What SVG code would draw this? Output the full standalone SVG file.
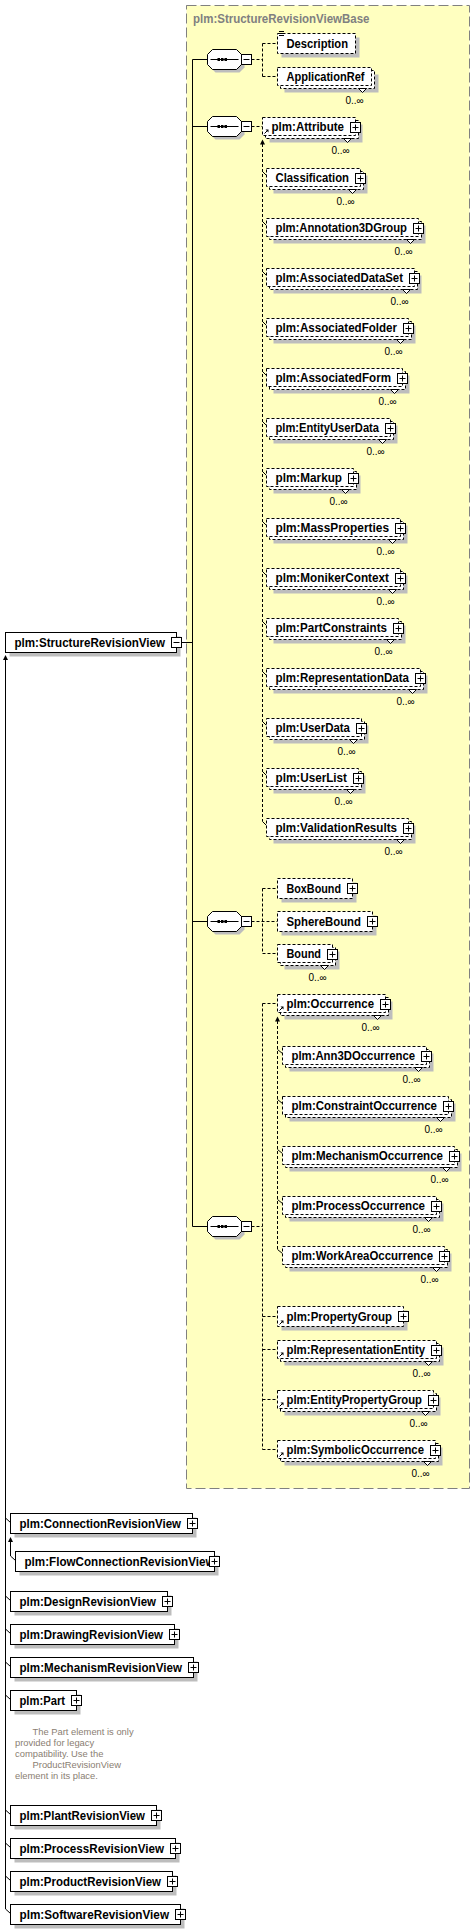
<svg xmlns="http://www.w3.org/2000/svg" width="475" height="1930" viewBox="0 0 475 1930">
<style>
.sh{fill:#bdbdbd}
.bx{fill:#fff;stroke:#000;stroke-width:1}
.bd{fill:#fff;stroke:#000;stroke-width:1;stroke-dasharray:3,2}
.lbl{font-family:"Liberation Sans",Arial,sans-serif;font-weight:bold;font-size:12px;fill:#000}
.mul{font-family:"Liberation Sans",Arial,sans-serif;font-size:10px;fill:#000}
.ann{font-family:"Liberation Sans",Arial,sans-serif;font-size:9.4px;fill:#8a7e72}
.ln{stroke:#000;stroke-width:1;fill:none}
.dl{stroke:#000;stroke-width:1;fill:none;stroke-dasharray:3,2}
.nt{fill:#fff;stroke:#000;stroke-width:1}
.ah{fill:#000}
</style>
<defs>
<g id="plus"><rect x="0" y="0" width="10" height="10" fill="#fff" stroke="#000"/><path d="M2,5H8M5,2V8" stroke="#000" fill="none"/></g>
<g id="minus"><rect x="0" y="0" width="10" height="10" fill="#fff" stroke="#000"/><path d="M2,5H8" stroke="#000" fill="none"/></g>
<g id="ref"><path d="M0,0L3,-3" stroke="#000" fill="none"/><path d="M1,-4H4V-1Z" fill="#000"/></g>
<g id="seq">
<path d="M8,-7H32L37,-2V8L32,13H8L3,8V-2Z" fill="#bdbdbd"/>
<path d="M5,-10H29L34,-5V5L29,10H5L0,5V-5Z" fill="#fff" stroke="#000"/>
<path d="M3,0H31" stroke="#000" fill="none"/>
<rect x="10" y="-1.5" width="2.5" height="3" fill="#000"/>
<rect x="13.5" y="-1.5" width="2.5" height="3" fill="#000"/>
<rect x="17" y="-1.5" width="2.5" height="3" fill="#000"/>
<use href="#minus" x="34" y="-5"/>
</g>
<path id="up" d="M0,0L-2.5,5H2.5Z"/>
</defs>

<g id="base-type">
<rect x="186.5" y="5.5" width="283" height="1483" fill="#ffffc0" stroke="#808080" stroke-dasharray="10,4"/>
<text x="193" y="23" class="lbl" style="fill:#808080" textLength="176.5" lengthAdjust="spacingAndGlyphs">plm:StructureRevisionViewBase</text>
</g>

<g id="connectors">
<path class="ln" d="M181.5,642.5H192.5M192.5,59.5V1226.5M192.5,59.5H207.5M192.5,126.5H207.5M192.5,921.5H207.5M192.5,1226.5H207.5"/>
<path class="dl" d="M251.5,59.5H262.5M262.5,43.5V76.5M262.5,43.5H277.5M262.5,76.5H277.5"/>
<path class="dl" d="M251.5,126.5H262.5M262.5,144V821.5"/>
<use href="#up" x="262.5" y="139.5" class="ah"/>
<path class="ln" d="M262.5,171.5L266.5,175.5M262.5,221.5L266.5,225.5M262.5,271.5L266.5,275.5M262.5,321.5L266.5,325.5M262.5,371.5L266.5,375.5M262.5,421.5L266.5,425.5M262.5,471.5L266.5,475.5M262.5,521.5L266.5,525.5M262.5,571.5L266.5,575.5M262.5,621.5L266.5,625.5M262.5,671.5L266.5,675.5M262.5,721.5L266.5,725.5M262.5,771.5L266.5,775.5M262.5,821.5L266.5,825.5"/>
<path class="dl" d="M251.5,921.5H277.5M262.5,888.5V953.5M262.5,888.5H277.5M262.5,953.5H277.5"/>
<path class="dl" d="M251.5,1226.5H262.5M262.5,1003.5V1449.5M262.5,1003.5H277.5M262.5,1316.5H277.5M262.5,1349.5H277.5M262.5,1399.5H277.5M262.5,1449.5H277.5"/>
<path class="dl" d="M277.5,1021V1249.5"/>
<use href="#up" x="277.5" y="1016.5" class="ah"/>
<path class="ln" d="M277.5,1049.5L282.5,1053.5M277.5,1099.5L282.5,1103.5M277.5,1149.5L282.5,1153.5M277.5,1199.5L282.5,1203.5M277.5,1249.5L282.5,1253.5"/>
<path class="ln" d="M5.5,659V1909M10.5,1541V1556M10.5,1556L15.5,1560.5"/>
<use href="#up" x="5.5" y="655" class="ah"/>
<use href="#up" x="10.5" y="1537" class="ah"/>
<path class="ln" d="M5.5,1518L10.5,1522.5M5.5,1596L10.5,1600.5M5.5,1629L10.5,1633.5M5.5,1662L10.5,1666.5M5.5,1695L10.5,1699.5M5.5,1810L10.5,1814.5M5.5,1843L10.5,1847.5M5.5,1876L10.5,1880.5M5.5,1909L10.5,1913.5"/>
</g>

<g id="seq-1"><use href="#seq" x="207.5" y="59.5"/></g>
<g id="seq-2"><use href="#seq" x="207.5" y="126.5"/></g>
<g id="seq-3"><use href="#seq" x="207.5" y="921.5"/></g>
<g id="seq-4"><use href="#seq" x="207.5" y="1226.5"/></g>

<g id="n-StructureRevisionView">
<rect class="sh" x="9.5" y="636.5" width="171" height="20"/>
<rect class="bx" x="5.5" y="632.5" width="171" height="20"/>
<text class="lbl" x="14.5" y="646.5" textLength="150.5" lengthAdjust="spacingAndGlyphs">plm:StructureRevisionView</text>
<use href="#minus" x="171.5" y="637.5"/>
</g>

<g id="n-Description">
<rect class="sh" x="281.5" y="37.5" width="78" height="20"/>
<rect class="bd" x="277.5" y="33.5" width="78" height="20"/>
<path class="ln" d="M279,31.5H284M279,33.5H284M279,35.5H284"/>
<text class="lbl" x="286.5" y="47.5" textLength="61.5" lengthAdjust="spacingAndGlyphs">Description</text>
</g>

<g id="n-ApplicationRef">
<rect class="sh" x="284.5" y="74.5" width="94" height="18"/>
<rect class="bd" x="280.5" y="70.5" width="94" height="18"/>
<rect class="bd" x="277.5" y="67.5" width="94" height="18"/>
<text class="lbl" x="286.5" y="80.5" textLength="78" lengthAdjust="spacingAndGlyphs">ApplicationRef</text>
<polygon class="nt" points="358.5,88.5 362.5,92.5 366.5,88.5"/>
<text class="mul" x="345.5" y="104">0..∞</text>
</g>

<g id="n-Attribute">
<rect class="sh" x="269.5" y="124.5" width="93" height="18"/>
<rect class="bd" x="265.5" y="120.5" width="93" height="18"/>
<rect class="bd" x="262.5" y="117.5" width="93" height="18"/>
<text class="lbl" x="271.5" y="130.5" textLength="72.5" lengthAdjust="spacingAndGlyphs">plm:Attribute</text>
<use href="#ref" x="264.5" y="133.5"/>
<use href="#plus" x="350.5" y="122.5"/>
<polygon class="nt" points="343.5,138.5 347.5,142.5 351.5,138.5"/>
<text class="mul" x="331.5" y="154">0..∞</text>
</g>

<g id="n-Classification">
<rect class="sh" x="273.5" y="175.5" width="94" height="18"/>
<rect class="bd" x="269.5" y="171.5" width="94" height="18"/>
<rect class="bd" x="266.5" y="168.5" width="94" height="18"/>
<text class="lbl" x="275.5" y="181.5" textLength="73.5" lengthAdjust="spacingAndGlyphs">Classification</text>
<use href="#plus" x="355.5" y="173.5"/>
<polygon class="nt" points="348.5,189.5 352.5,193.5 356.5,189.5"/>
<text class="mul" x="336.5" y="205">0..∞</text>
</g>

<g id="n-Annotation3DGroup">
<rect class="sh" x="273.5" y="225.5" width="152" height="18"/>
<rect class="bd" x="269.5" y="221.5" width="152" height="18"/>
<rect class="bd" x="266.5" y="218.5" width="152" height="18"/>
<text class="lbl" x="275.5" y="231.5" textLength="131.5" lengthAdjust="spacingAndGlyphs">plm:Annotation3DGroup</text>
<use href="#plus" x="413.5" y="223.5"/>
<polygon class="nt" points="406.5,239.5 410.5,243.5 414.5,239.5"/>
<text class="mul" x="394.5" y="255">0..∞</text>
</g>

<g id="n-AssociatedDataSet">
<rect class="sh" x="273.5" y="275.5" width="148" height="18"/>
<rect class="bd" x="269.5" y="271.5" width="148" height="18"/>
<rect class="bd" x="266.5" y="268.5" width="148" height="18"/>
<text class="lbl" x="275.5" y="281.5" textLength="127.5" lengthAdjust="spacingAndGlyphs">plm:AssociatedDataSet</text>
<use href="#plus" x="409.5" y="273.5"/>
<polygon class="nt" points="402.5,289.5 406.5,293.5 410.5,289.5"/>
<text class="mul" x="390.5" y="305">0..∞</text>
</g>

<g id="n-AssociatedFolder">
<rect class="sh" x="273.5" y="325.5" width="142" height="18"/>
<rect class="bd" x="269.5" y="321.5" width="142" height="18"/>
<rect class="bd" x="266.5" y="318.5" width="142" height="18"/>
<text class="lbl" x="275.5" y="331.5" textLength="121.5" lengthAdjust="spacingAndGlyphs">plm:AssociatedFolder</text>
<use href="#plus" x="403.5" y="323.5"/>
<polygon class="nt" points="396.5,339.5 400.5,343.5 404.5,339.5"/>
<text class="mul" x="384.5" y="355">0..∞</text>
</g>

<g id="n-AssociatedForm">
<rect class="sh" x="273.5" y="375.5" width="136" height="18"/>
<rect class="bd" x="269.5" y="371.5" width="136" height="18"/>
<rect class="bd" x="266.5" y="368.5" width="136" height="18"/>
<text class="lbl" x="275.5" y="381.5" textLength="115.5" lengthAdjust="spacingAndGlyphs">plm:AssociatedForm</text>
<use href="#plus" x="397.5" y="373.5"/>
<polygon class="nt" points="390.5,389.5 394.5,393.5 398.5,389.5"/>
<text class="mul" x="378.5" y="405">0..∞</text>
</g>

<g id="n-EntityUserData">
<rect class="sh" x="273.5" y="425.5" width="124" height="18"/>
<rect class="bd" x="269.5" y="421.5" width="124" height="18"/>
<rect class="bd" x="266.5" y="418.5" width="124" height="18"/>
<text class="lbl" x="275.5" y="431.5" textLength="103.5" lengthAdjust="spacingAndGlyphs">plm:EntityUserData</text>
<use href="#plus" x="385.5" y="423.5"/>
<polygon class="nt" points="378.5,439.5 382.5,443.5 386.5,439.5"/>
<text class="mul" x="366.5" y="455">0..∞</text>
</g>

<g id="n-Markup">
<rect class="sh" x="273.5" y="475.5" width="87" height="18"/>
<rect class="bd" x="269.5" y="471.5" width="87" height="18"/>
<rect class="bd" x="266.5" y="468.5" width="87" height="18"/>
<text class="lbl" x="275.5" y="481.5" textLength="66.5" lengthAdjust="spacingAndGlyphs">plm:Markup</text>
<use href="#plus" x="348.5" y="473.5"/>
<polygon class="nt" points="341.5,489.5 345.5,493.5 349.5,489.5"/>
<text class="mul" x="329.5" y="505">0..∞</text>
</g>

<g id="n-MassProperties">
<rect class="sh" x="273.5" y="525.5" width="134" height="18"/>
<rect class="bd" x="269.5" y="521.5" width="134" height="18"/>
<rect class="bd" x="266.5" y="518.5" width="134" height="18"/>
<text class="lbl" x="275.5" y="531.5" textLength="113.5" lengthAdjust="spacingAndGlyphs">plm:MassProperties</text>
<use href="#plus" x="395.5" y="523.5"/>
<polygon class="nt" points="388.5,539.5 392.5,543.5 396.5,539.5"/>
<text class="mul" x="376.5" y="555">0..∞</text>
</g>

<g id="n-MonikerContext">
<rect class="sh" x="273.5" y="575.5" width="134" height="18"/>
<rect class="bd" x="269.5" y="571.5" width="134" height="18"/>
<rect class="bd" x="266.5" y="568.5" width="134" height="18"/>
<text class="lbl" x="275.5" y="581.5" textLength="113.5" lengthAdjust="spacingAndGlyphs">plm:MonikerContext</text>
<use href="#plus" x="395.5" y="573.5"/>
<polygon class="nt" points="388.5,589.5 392.5,593.5 396.5,589.5"/>
<text class="mul" x="376.5" y="605">0..∞</text>
</g>

<g id="n-PartConstraints">
<rect class="sh" x="273.5" y="625.5" width="132" height="18"/>
<rect class="bd" x="269.5" y="621.5" width="132" height="18"/>
<rect class="bd" x="266.5" y="618.5" width="132" height="18"/>
<text class="lbl" x="275.5" y="631.5" textLength="111.5" lengthAdjust="spacingAndGlyphs">plm:PartConstraints</text>
<use href="#plus" x="393.5" y="623.5"/>
<polygon class="nt" points="386.5,639.5 390.5,643.5 394.5,639.5"/>
<text class="mul" x="374.5" y="655">0..∞</text>
</g>

<g id="n-RepresentationData">
<rect class="sh" x="273.5" y="675.5" width="154" height="18"/>
<rect class="bd" x="269.5" y="671.5" width="154" height="18"/>
<rect class="bd" x="266.5" y="668.5" width="154" height="18"/>
<text class="lbl" x="275.5" y="681.5" textLength="133.5" lengthAdjust="spacingAndGlyphs">plm:RepresentationData</text>
<use href="#plus" x="415.5" y="673.5"/>
<polygon class="nt" points="408.5,689.5 412.5,693.5 416.5,689.5"/>
<text class="mul" x="396.5" y="705">0..∞</text>
</g>

<g id="n-UserData">
<rect class="sh" x="273.5" y="725.5" width="95" height="18"/>
<rect class="bd" x="269.5" y="721.5" width="95" height="18"/>
<rect class="bd" x="266.5" y="718.5" width="95" height="18"/>
<text class="lbl" x="275.5" y="731.5" textLength="74.5" lengthAdjust="spacingAndGlyphs">plm:UserData</text>
<use href="#plus" x="356.5" y="723.5"/>
<polygon class="nt" points="349.5,739.5 353.5,743.5 357.5,739.5"/>
<text class="mul" x="337.5" y="755">0..∞</text>
</g>

<g id="n-UserList">
<rect class="sh" x="273.5" y="775.5" width="92" height="18"/>
<rect class="bd" x="269.5" y="771.5" width="92" height="18"/>
<rect class="bd" x="266.5" y="768.5" width="92" height="18"/>
<text class="lbl" x="275.5" y="781.5" textLength="71.5" lengthAdjust="spacingAndGlyphs">plm:UserList</text>
<use href="#plus" x="353.5" y="773.5"/>
<polygon class="nt" points="346.5,789.5 350.5,793.5 354.5,789.5"/>
<text class="mul" x="334.5" y="805">0..∞</text>
</g>

<g id="n-ValidationResults">
<rect class="sh" x="273.5" y="825.5" width="142" height="18"/>
<rect class="bd" x="269.5" y="821.5" width="142" height="18"/>
<rect class="bd" x="266.5" y="818.5" width="142" height="18"/>
<text class="lbl" x="275.5" y="831.5" textLength="121.5" lengthAdjust="spacingAndGlyphs">plm:ValidationResults</text>
<use href="#plus" x="403.5" y="823.5"/>
<polygon class="nt" points="396.5,839.5 400.5,843.5 404.5,839.5"/>
<text class="mul" x="384.5" y="855">0..∞</text>
</g>

<g id="n-BoxBound">
<rect class="sh" x="281.5" y="882.5" width="75" height="20"/>
<rect class="bd" x="277.5" y="878.5" width="75" height="20"/>
<text class="lbl" x="286.5" y="892.5" textLength="54.5" lengthAdjust="spacingAndGlyphs">BoxBound</text>
<use href="#plus" x="347.5" y="883.5"/>
</g>

<g id="n-SphereBound">
<rect class="sh" x="281.5" y="915.5" width="95" height="20"/>
<rect class="bd" x="277.5" y="911.5" width="95" height="20"/>
<text class="lbl" x="286.5" y="925.5" textLength="74.5" lengthAdjust="spacingAndGlyphs">SphereBound</text>
<use href="#plus" x="367.5" y="916.5"/>
</g>

<g id="n-Bound">
<rect class="sh" x="284.5" y="951.5" width="55" height="18"/>
<rect class="bd" x="280.5" y="947.5" width="55" height="18"/>
<rect class="bd" x="277.5" y="944.5" width="55" height="18"/>
<text class="lbl" x="286.5" y="957.5" textLength="34.5" lengthAdjust="spacingAndGlyphs">Bound</text>
<use href="#plus" x="327.5" y="949.5"/>
<polygon class="nt" points="320.5,965.5 324.5,969.5 328.5,965.5"/>
<text class="mul" x="308.5" y="981">0..∞</text>
</g>

<g id="n-Occurrence">
<rect class="sh" x="284.5" y="1001.5" width="108" height="18"/>
<rect class="bd" x="280.5" y="997.5" width="108" height="18"/>
<rect class="bd" x="277.5" y="994.5" width="108" height="18"/>
<text class="lbl" x="286.5" y="1007.5" textLength="87.5" lengthAdjust="spacingAndGlyphs">plm:Occurrence</text>
<use href="#ref" x="279.5" y="1010.5"/>
<use href="#plus" x="380.5" y="999.5"/>
<polygon class="nt" points="373.5,1015.5 377.5,1019.5 381.5,1015.5"/>
<text class="mul" x="361.5" y="1031">0..∞</text>
</g>

<g id="n-Ann3DOccurrence">
<rect class="sh" x="289.5" y="1053.5" width="144" height="18"/>
<rect class="bd" x="285.5" y="1049.5" width="144" height="18"/>
<rect class="bd" x="282.5" y="1046.5" width="144" height="18"/>
<text class="lbl" x="291.5" y="1059.5" textLength="123.5" lengthAdjust="spacingAndGlyphs">plm:Ann3DOccurrence</text>
<use href="#plus" x="421.5" y="1051.5"/>
<polygon class="nt" points="414.5,1067.5 418.5,1071.5 422.5,1067.5"/>
<text class="mul" x="402.5" y="1083">0..∞</text>
</g>

<g id="n-ConstraintOccurrence">
<rect class="sh" x="289.5" y="1103.5" width="166" height="18"/>
<rect class="bd" x="285.5" y="1099.5" width="166" height="18"/>
<rect class="bd" x="282.5" y="1096.5" width="166" height="18"/>
<text class="lbl" x="291.5" y="1109.5" textLength="145.5" lengthAdjust="spacingAndGlyphs">plm:ConstraintOccurrence</text>
<use href="#plus" x="443.5" y="1101.5"/>
<polygon class="nt" points="436.5,1117.5 440.5,1121.5 444.5,1117.5"/>
<text class="mul" x="424.5" y="1133">0..∞</text>
</g>

<g id="n-MechanismOccurrence">
<rect class="sh" x="289.5" y="1153.5" width="172" height="18"/>
<rect class="bd" x="285.5" y="1149.5" width="172" height="18"/>
<rect class="bd" x="282.5" y="1146.5" width="172" height="18"/>
<text class="lbl" x="291.5" y="1159.5" textLength="151.5" lengthAdjust="spacingAndGlyphs">plm:MechanismOccurrence</text>
<use href="#plus" x="449.5" y="1151.5"/>
<polygon class="nt" points="442.5,1167.5 446.5,1171.5 450.5,1167.5"/>
<text class="mul" x="430.5" y="1183">0..∞</text>
</g>

<g id="n-ProcessOccurrence">
<rect class="sh" x="289.5" y="1203.5" width="154" height="18"/>
<rect class="bd" x="285.5" y="1199.5" width="154" height="18"/>
<rect class="bd" x="282.5" y="1196.5" width="154" height="18"/>
<text class="lbl" x="291.5" y="1209.5" textLength="133.5" lengthAdjust="spacingAndGlyphs">plm:ProcessOccurrence</text>
<use href="#plus" x="431.5" y="1201.5"/>
<polygon class="nt" points="424.5,1217.5 428.5,1221.5 432.5,1217.5"/>
<text class="mul" x="412.5" y="1233">0..∞</text>
</g>

<g id="n-WorkAreaOccurrence">
<rect class="sh" x="289.5" y="1253.5" width="162" height="18"/>
<rect class="bd" x="285.5" y="1249.5" width="162" height="18"/>
<rect class="bd" x="282.5" y="1246.5" width="162" height="18"/>
<text class="lbl" x="291.5" y="1259.5" textLength="141.5" lengthAdjust="spacingAndGlyphs">plm:WorkAreaOccurrence</text>
<use href="#plus" x="439.5" y="1251.5"/>
<polygon class="nt" points="432.5,1267.5 436.5,1271.5 440.5,1267.5"/>
<text class="mul" x="420.5" y="1283">0..∞</text>
</g>

<g id="n-PropertyGroup">
<rect class="sh" x="281.5" y="1310.5" width="126" height="20"/>
<rect class="bd" x="277.5" y="1306.5" width="126" height="20"/>
<text class="lbl" x="286.5" y="1320.5" textLength="105.5" lengthAdjust="spacingAndGlyphs">plm:PropertyGroup</text>
<use href="#ref" x="279.5" y="1324.5"/>
<use href="#plus" x="398.5" y="1311.5"/>
</g>

<g id="n-RepresentationEntity">
<rect class="sh" x="284.5" y="1347.5" width="159" height="18"/>
<rect class="bd" x="280.5" y="1343.5" width="159" height="18"/>
<rect class="bd" x="277.5" y="1340.5" width="159" height="18"/>
<text class="lbl" x="286.5" y="1353.5" textLength="138.5" lengthAdjust="spacingAndGlyphs">plm:RepresentationEntity</text>
<use href="#ref" x="279.5" y="1356.5"/>
<use href="#plus" x="431.5" y="1345.5"/>
<polygon class="nt" points="424.5,1361.5 428.5,1365.5 432.5,1361.5"/>
<text class="mul" x="412.5" y="1377">0..∞</text>
</g>

<g id="n-EntityPropertyGroup">
<rect class="sh" x="284.5" y="1397.5" width="156" height="18"/>
<rect class="bd" x="280.5" y="1393.5" width="156" height="18"/>
<rect class="bd" x="277.5" y="1390.5" width="156" height="18"/>
<text class="lbl" x="286.5" y="1403.5" textLength="135.5" lengthAdjust="spacingAndGlyphs">plm:EntityPropertyGroup</text>
<use href="#ref" x="279.5" y="1406.5"/>
<use href="#plus" x="428.5" y="1395.5"/>
<polygon class="nt" points="421.5,1411.5 425.5,1415.5 429.5,1411.5"/>
<text class="mul" x="409.5" y="1427">0..∞</text>
</g>

<g id="n-SymbolicOccurrence">
<rect class="sh" x="284.5" y="1447.5" width="158" height="18"/>
<rect class="bd" x="280.5" y="1443.5" width="158" height="18"/>
<rect class="bd" x="277.5" y="1440.5" width="158" height="18"/>
<text class="lbl" x="286.5" y="1453.5" textLength="137.5" lengthAdjust="spacingAndGlyphs">plm:SymbolicOccurrence</text>
<use href="#ref" x="279.5" y="1456.5"/>
<use href="#plus" x="430.5" y="1445.5"/>
<polygon class="nt" points="423.5,1461.5 427.5,1465.5 431.5,1461.5"/>
<text class="mul" x="411.5" y="1477">0..∞</text>
</g>

<g id="n-ConnectionRevisionView">
<rect class="sh" x="14.5" y="1517.5" width="182" height="20"/>
<rect class="bx" x="10.5" y="1513.5" width="182" height="20"/>
<text class="lbl" x="19.5" y="1527.5" textLength="161.5" lengthAdjust="spacingAndGlyphs">plm:ConnectionRevisionView</text>
<use href="#plus" x="187.5" y="1518.5"/>
</g>

<g id="n-FlowConnectionRevisionView">
<rect class="sh" x="19.5" y="1555.5" width="199" height="20"/>
<rect class="bx" x="15.5" y="1551.5" width="199" height="20"/>
<text class="lbl" x="24.5" y="1565.5" textLength="190" lengthAdjust="spacingAndGlyphs">plm:FlowConnectionRevisionView</text>
<use href="#plus" x="209.5" y="1556.5"/>
</g>

<g id="n-DesignRevisionView">
<rect class="sh" x="14.5" y="1595.5" width="157" height="20"/>
<rect class="bx" x="10.5" y="1591.5" width="157" height="20"/>
<text class="lbl" x="19.5" y="1605.5" textLength="136.5" lengthAdjust="spacingAndGlyphs">plm:DesignRevisionView</text>
<use href="#plus" x="162.5" y="1596.5"/>
</g>

<g id="n-DrawingRevisionView">
<rect class="sh" x="14.5" y="1628.5" width="164" height="20"/>
<rect class="bx" x="10.5" y="1624.5" width="164" height="20"/>
<text class="lbl" x="19.5" y="1638.5" textLength="143.5" lengthAdjust="spacingAndGlyphs">plm:DrawingRevisionView</text>
<use href="#plus" x="169.5" y="1629.5"/>
</g>

<g id="n-MechanismRevisionView">
<rect class="sh" x="14.5" y="1661.5" width="183" height="20"/>
<rect class="bx" x="10.5" y="1657.5" width="183" height="20"/>
<text class="lbl" x="19.5" y="1671.5" textLength="162.5" lengthAdjust="spacingAndGlyphs">plm:MechanismRevisionView</text>
<use href="#plus" x="188.5" y="1662.5"/>
</g>

<g id="n-Part">
<rect class="sh" x="14.5" y="1694.5" width="66" height="20"/>
<rect class="bx" x="10.5" y="1690.5" width="66" height="20"/>
<text class="lbl" x="19.5" y="1704.5" textLength="45.5" lengthAdjust="spacingAndGlyphs">plm:Part</text>
<use href="#plus" x="71.5" y="1695.5"/>
<text class="ann" x="32.5" y="1735">The Part element is only</text>
<text class="ann" x="15" y="1746">provided for legacy</text>
<text class="ann" x="15" y="1757">compatibility. Use the</text>
<text class="ann" x="32.5" y="1768">ProductRevisionView</text>
<text class="ann" x="15" y="1779">element in its place.</text>
</g>

<g id="n-PlantRevisionView">
<rect class="sh" x="14.5" y="1809.5" width="146" height="20"/>
<rect class="bx" x="10.5" y="1805.5" width="146" height="20"/>
<text class="lbl" x="19.5" y="1819.5" textLength="125.5" lengthAdjust="spacingAndGlyphs">plm:PlantRevisionView</text>
<use href="#plus" x="151.5" y="1810.5"/>
</g>

<g id="n-ProcessRevisionView">
<rect class="sh" x="14.5" y="1842.5" width="165" height="20"/>
<rect class="bx" x="10.5" y="1838.5" width="165" height="20"/>
<text class="lbl" x="19.5" y="1852.5" textLength="144.5" lengthAdjust="spacingAndGlyphs">plm:ProcessRevisionView</text>
<use href="#plus" x="170.5" y="1843.5"/>
</g>

<g id="n-ProductRevisionView">
<rect class="sh" x="14.5" y="1875.5" width="162" height="20"/>
<rect class="bx" x="10.5" y="1871.5" width="162" height="20"/>
<text class="lbl" x="19.5" y="1885.5" textLength="141.5" lengthAdjust="spacingAndGlyphs">plm:ProductRevisionView</text>
<use href="#plus" x="167.5" y="1876.5"/>
</g>

<g id="n-SoftwareRevisionView">
<rect class="sh" x="14.5" y="1908.5" width="170" height="20"/>
<rect class="bx" x="10.5" y="1904.5" width="170" height="20"/>
<text class="lbl" x="19.5" y="1918.5" textLength="149.5" lengthAdjust="spacingAndGlyphs">plm:SoftwareRevisionView</text>
<use href="#plus" x="175.5" y="1909.5"/>
</g>
</svg>
